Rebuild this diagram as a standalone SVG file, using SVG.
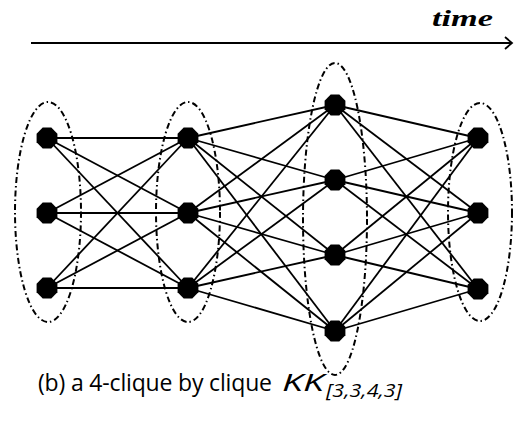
<svg xmlns="http://www.w3.org/2000/svg" xmlns:xlink="http://www.w3.org/1999/xlink" width="515" height="425" viewBox="0 0 515 425">
<style>
.edge{stroke:#000;stroke-width:1.8;fill:none}
.grp{fill:none;stroke:#000;stroke-width:2;stroke-dasharray:6 3 1.5 3}
.node{fill:#000}
.cap{font-family:"Open Sans","Liberation Sans",sans-serif;fill:#000}
</style>
<defs>
<polygon id="oct" points="10.4,4.3 4.3,10.4 -4.3,10.4 -10.4,4.3 -10.4,-4.3 -4.3,-10.4 4.3,-10.4 10.4,-4.3"/>
</defs>
<rect width="515" height="425" fill="#fff"/>
<g id="time-axis">
<line x1="31" y1="43" x2="512" y2="43" stroke="#000" stroke-width="2"/>
<polyline points="505,37 512,43 505,49" fill="none" stroke="#000" stroke-width="1.8"/>
<text x="432" y="26" font-family="Liberation Serif,serif" font-weight="bold" font-style="italic" font-size="24" textLength="61" lengthAdjust="spacingAndGlyphs">time</text>
</g>
<g id="groups">
<ellipse id="g1" class="grp" cx="48" cy="212" rx="33" ry="110"/>
<ellipse id="g2" class="grp" cx="188" cy="212" rx="32" ry="110"/>
<ellipse id="g3" class="grp" cx="335" cy="219" rx="32" ry="156"/>
<ellipse id="g4" class="grp" cx="480" cy="212" rx="32" ry="109"/>
</g>
<g id="connectors">
<line class="edge" x1="47" y1="138" x2="188" y2="138"/>
<line class="edge" x1="47" y1="138" x2="188" y2="213"/>
<line class="edge" x1="47" y1="138" x2="188" y2="288"/>
<line class="edge" x1="47" y1="213" x2="188" y2="138"/>
<line class="edge" x1="47" y1="213" x2="188" y2="213"/>
<line class="edge" x1="47" y1="213" x2="188" y2="288"/>
<line class="edge" x1="47" y1="288" x2="188" y2="138"/>
<line class="edge" x1="47" y1="288" x2="188" y2="213"/>
<line class="edge" x1="47" y1="288" x2="188" y2="288"/>
<line class="edge" x1="188" y1="138" x2="335" y2="105"/>
<line class="edge" x1="188" y1="138" x2="335" y2="180"/>
<line class="edge" x1="188" y1="138" x2="335" y2="255"/>
<line class="edge" x1="188" y1="138" x2="335" y2="331"/>
<line class="edge" x1="188" y1="213" x2="335" y2="105"/>
<line class="edge" x1="188" y1="213" x2="335" y2="180"/>
<line class="edge" x1="188" y1="213" x2="335" y2="255"/>
<line class="edge" x1="188" y1="213" x2="335" y2="331"/>
<line class="edge" x1="188" y1="288" x2="335" y2="105"/>
<line class="edge" x1="188" y1="288" x2="335" y2="180"/>
<line class="edge" x1="188" y1="288" x2="335" y2="255"/>
<line class="edge" x1="188" y1="288" x2="335" y2="331"/>
<line class="edge" x1="335" y1="105" x2="478" y2="138"/>
<line class="edge" x1="335" y1="105" x2="478" y2="213"/>
<line class="edge" x1="335" y1="105" x2="478" y2="289"/>
<line class="edge" x1="335" y1="180" x2="478" y2="138"/>
<line class="edge" x1="335" y1="180" x2="478" y2="213"/>
<line class="edge" x1="335" y1="180" x2="478" y2="289"/>
<line class="edge" x1="335" y1="255" x2="478" y2="138"/>
<line class="edge" x1="335" y1="255" x2="478" y2="213"/>
<line class="edge" x1="335" y1="255" x2="478" y2="289"/>
<line class="edge" x1="335" y1="331" x2="478" y2="138"/>
<line class="edge" x1="335" y1="331" x2="478" y2="213"/>
<line class="edge" x1="335" y1="331" x2="478" y2="289"/>
</g>
<g id="n1a"><use xlink:href="#oct" class="node" x="47" y="138"/></g>
<g id="n1b"><use xlink:href="#oct" class="node" x="47" y="213"/></g>
<g id="n1c"><use xlink:href="#oct" class="node" x="47" y="288"/></g>
<g id="n2a"><use xlink:href="#oct" class="node" x="188" y="138"/></g>
<g id="n2b"><use xlink:href="#oct" class="node" x="188" y="213"/></g>
<g id="n2c"><use xlink:href="#oct" class="node" x="188" y="288"/></g>
<g id="n3a"><use xlink:href="#oct" class="node" x="335" y="105"/></g>
<g id="n3b"><use xlink:href="#oct" class="node" x="335" y="180"/></g>
<g id="n3c"><use xlink:href="#oct" class="node" x="335" y="255"/></g>
<g id="n3d"><use xlink:href="#oct" class="node" x="335" y="331"/></g>
<g id="n4a"><use xlink:href="#oct" class="node" x="478" y="138"/></g>
<g id="n4b"><use xlink:href="#oct" class="node" x="478" y="213"/></g>
<g id="n4c"><use xlink:href="#oct" class="node" x="478" y="289"/></g>
<g id="caption">
<text class="cap" x="38" y="391" font-size="23" textLength="234" lengthAdjust="spacing">(b) a 4-clique by clique</text>
<text class="cap" x="282" y="391" font-size="23" font-style="italic" textLength="42" lengthAdjust="spacingAndGlyphs">KK</text>
<text class="cap" x="326" y="397" font-size="18" font-style="italic" textLength="76" lengthAdjust="spacingAndGlyphs">[3,3,4,3]</text>
</g>
</svg>
